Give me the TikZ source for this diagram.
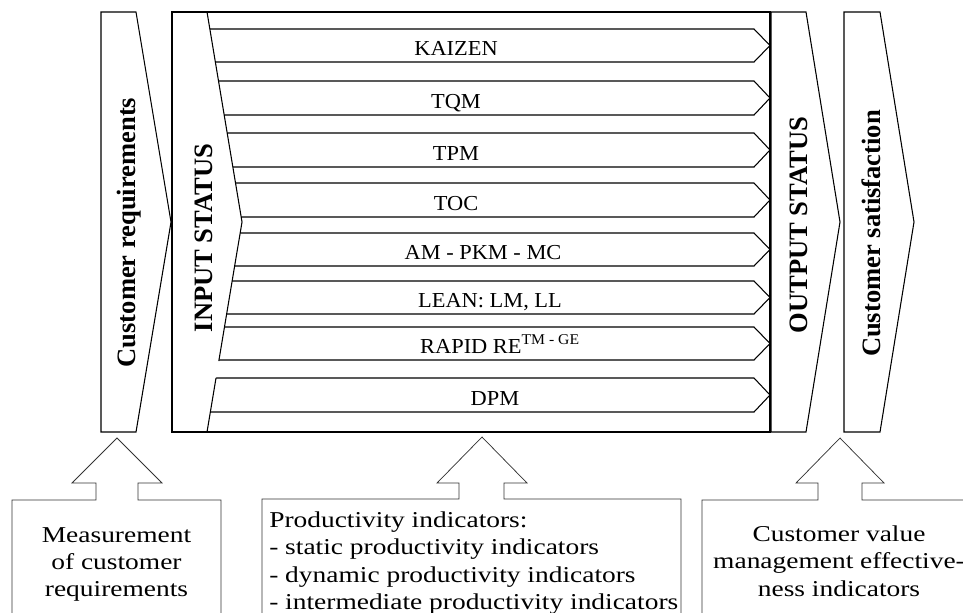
\documentclass[tikz,border=0pt]{standalone}
\usepackage{fontspec}
\setmainfont{Liberation Serif}
\newfontfamily\rowrm[FakeStretch=1.05]{Liberation Serif}
\newfontfamily\boxrm[FakeStretch=1.21]{Liberation Serif}
\tikzset{
  edge/.style={draw=black,line width=0.8pt},
  rowarrow/.style={draw=black,line width=0.8pt},
  hollow/.style={draw=black!80,line width=0.55pt},
  sidelab/.style={rotate=90,anchor=base,inner sep=0pt,
    font=\fontsize{19.9}{24}\selectfont\bfseries},
  rowlab/.style={anchor=base,inner sep=0pt,
    font=\rowrm\fontsize{16}{18}\selectfont},
  boxlab/.style={align=center,inner sep=0pt,
    font=\boxrm\fontsize{17}{20.6}\selectfont}
}

\begin{document}
\begin{tikzpicture}[x=0.75pt,y=-0.75pt]
  \clip (0,0) rectangle (963,612);
  % process rows
  \foreach \ytop/\ybot/\cx/\lab [count=\i] in {
      29/62/456/KAIZEN, 81/115/456/TQM, 133/167/456/TPM, 183/217/456/TOC,
      233/266/483/AM - PKM - MC, 281/314/490/{LEAN: LM, LL},
      327/360/500/{RAPID RE\textsuperscript{TM - GE}}, 378/412/495/DPM}
  {
    \draw[rowarrow] (190,\ytop) -- (754,\ytop) -- (770,{(\ytop+\ybot)/2})
      -- (754,\ybot) -- (190,\ybot);
    \node[rowlab] (row\i) at (\cx,\ybot-7) {\lab};
  }
  % input status band
  \fill[white] (172,12) -- (207,12) -- (242,222) -- (207,432) -- (172,432) -- cycle;
  \draw[edge] (207,12) -- (242,222) -- (218.8,361);
  \draw[edge] (216,378) -- (207,432);
  \draw[edge] (172,12) rectangle (770,432);
  % side chevrons
  \draw[edge] (101,12) -- (136,12) -- (171,222) -- (136,432) -- (101,432) -- cycle;
  \draw[edge] (771,12) -- (806,12) -- (840,222) -- (806,432) -- (771,432) -- cycle;
  \draw[edge] (844,12) -- (880,12) -- (914,222) -- (880,432) -- (844,432) -- cycle;
  \node[sidelab] (custreq) at (135,232.5) {Customer requirements};
  \node[sidelab] (instatus) at (212,238) {INPUT STATUS};
  \node[sidelab] (outstatus) at (807,225) {OUTPUT STATUS};
  \node[sidelab] (custsat) at (880,233.5) {Customer satisfaction};
  % indicator boxes with block arrows
  \draw[hollow] (12,620) -- (12,500) -- (96,500) -- (96,483) -- (72,483) -- (117,438)
    -- (162,483) -- (138,483) -- (138,500) -- (221,500) -- (221,620);
  \draw[hollow] (262,620) -- (262,499) -- (459,499) -- (459,483) -- (437,483) -- (482,437)
    -- (527,483) -- (504,483) -- (504,499) -- (681,499) -- (681,620);
  \draw[hollow] (702,620) -- (702,500) -- (818,500) -- (818,483) -- (796,483) -- (840,438)
    -- (884,483) -- (862,483) -- (862,500) -- (970,500);
  \node[boxlab] (measure) at (116.5,564.5) {Measurement\\of customer\\requirements};
  \node[boxlab,align=left,anchor=north west] (prodind) at (269,511.5)
    {Productivity indicators:\\- static productivity indicators\\
     - dynamic productivity indicators\\- intermediate productivity indicators};
  \node[boxlab] (cvm) at (839,561) {Customer value\\management effective-\\ness indicators};
\end{tikzpicture}
\end{document}
